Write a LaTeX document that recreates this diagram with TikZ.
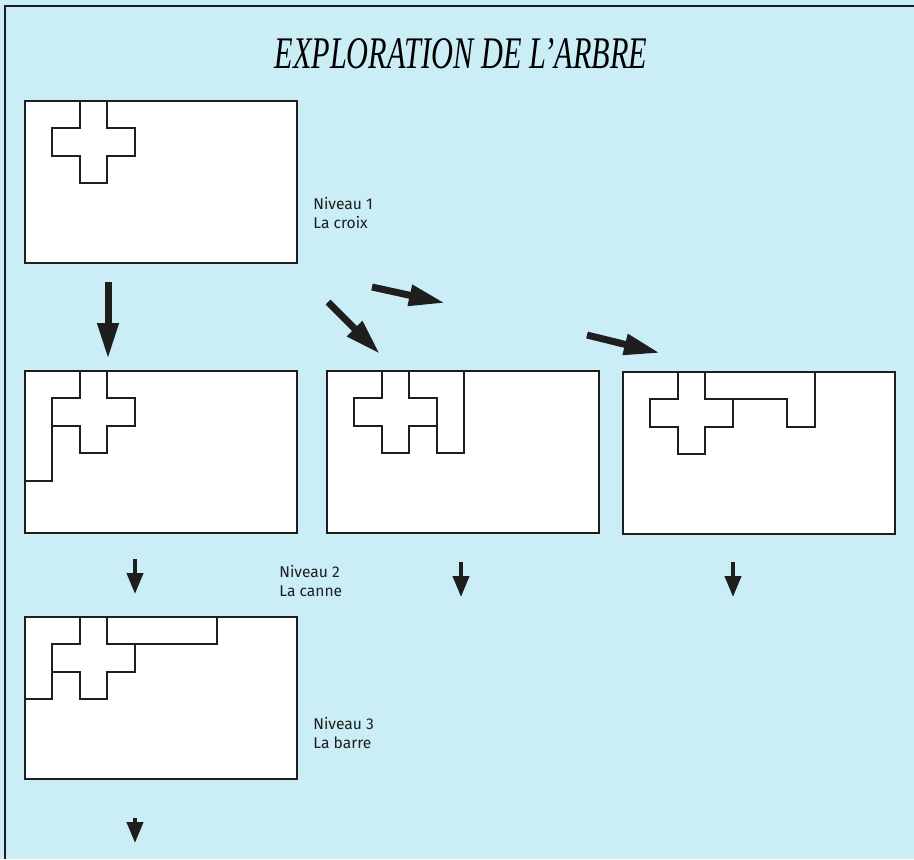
\documentclass[tikz,border=0pt]{standalone}
\usepackage{fontspec}
\usepackage{graphicx}
\setsansfont{Fira Sans}
\newfontfamily\titrefont[Ligatures=TeX]{Liberation Serif}
\usetikzlibrary{arrows.meta,positioning,calc}
\definecolor{fondbleu}{RGB}{202,237,246}
\definecolor{encre}{RGB}{30,30,30}

\tikzset{
  plateau/.style={draw=encre, fill=white, line width=1.1pt, minimum width=136pt,
                  minimum height=81pt, anchor=north west, inner sep=0pt, outer sep=0pt},
  piece/.style={draw=encre, line width=1pt, line join=miter},
  fleche/.style={draw=encre, line width=3.5pt, -{Triangle[length=18pt,width=10pt]}},
  petitefleche/.style={draw=encre, line width=2pt, -{Triangle[length=10.5pt,width=8pt]}},
  legende/.style={font=\sffamily\fontsize{7.8}{9.5}\selectfont, align=left,
                  anchor=west, inner sep=0pt, text=encre},
  croix/.pic={\draw[piece] (2,0) -- (3,0) -- (3,1) -- (4,1) -- (4,2) -- (3,2) -- (3,3)
              -- (2,3) -- (2,2) -- (1,2) -- (1,1) -- (2,1) -- cycle;}
}

\begin{document}
\begin{tikzpicture}[x=0.5pt, y=-0.5pt]
  \fill[fondbleu] (0,0) rectangle (914,859);
  \useasboundingbox (0,0) rectangle (914,859);
  \draw[encre, line width=1pt] (5,859) -- (5,6) -- (914,6);

  \node (titre) at (461,54) {\titrefont\itshape\fontsize{22.6}{26}\selectfont
    \scalebox{0.67}[1]{EXPLORATION DE L’ARBRE}};

  % plateaux
  \node[plateau] (croix)  at (25,101) {};
  \node[plateau] (canneA) at (25,371) {};
  \node[plateau] (canneB) at (327,371) {};
  \node[plateau] (canneC) at (623,372) {};
  \node[plateau] (barre)  at (25,617) {};

  % niveau 1
  \begin{scope}[shift={(croix.north west)}, x=13.7pt, y=-13.7pt]
    \pic {croix};
  \end{scope}

  % niveau 2
  \begin{scope}[shift={(canneA.north west)}, x=13.7pt, y=-13.7pt]
    \pic {croix};
    \draw[piece] (0,0) -- (2,0) -- (2,1) -- (1,1) -- (1,4) -- (0,4) -- cycle;
  \end{scope}
  \begin{scope}[shift={(canneB.north west)}, x=13.7pt, y=-13.7pt]
    \pic {croix};
    \draw[piece] (3,0) -- (5,0) -- (5,3) -- (4,3) -- (4,1) -- (3,1) -- cycle;
  \end{scope}
  \begin{scope}[shift={(canneC.north west)}, x=13.7pt, y=-13.7pt]
    \pic {croix};
    \draw[piece] (3,0) -- (7,0) -- (7,2) -- (6,2) -- (6,1) -- (3,1) -- cycle;
  \end{scope}

  % niveau 3
  \begin{scope}[shift={(barre.north west)}, x=13.7pt, y=-13.7pt]
    \pic {croix};
    \draw[piece] (0,0) -- (2,0) -- (2,1) -- (1,1) -- (1,3) -- (0,3) -- cycle;
    \draw[piece] (3,0) -- (7,0) -- (7,1) -- (3,1) -- cycle;
  \end{scope}

  % legendes
  \node[legende] (niv1) at (313,213) {Niveau 1\\La croix};
  \node[legende] (niv2) at (279,581) {Niveau 2\\La canne};
  \node[legende] (niv3) at (313,733) {Niveau 3\\La barre};

  % fleches
  \coordinate (d1) at (108,282);  \coordinate (a1) at (108,359);
  \coordinate (d2) at (328,302);  \coordinate (a2) at (380,354);
  \coordinate (d3) at (372,287);  \coordinate (a3) at (445,303);
  \coordinate (d4) at (587,335);  \coordinate (a4) at (660,353);
  \draw[fleche] (d1) -- (a1);
  \draw[fleche] (d2) -- (a2);
  \draw[fleche] (d3) -- (a3);
  \draw[fleche] (d4) -- (a4);

  \coordinate (d5) at (135,559);  \coordinate (a5) at (135,594);
  \coordinate (d6) at (461,562);  \coordinate (a6) at (461,597);
  \coordinate (d7) at (733,562);  \coordinate (a7) at (733,597);
  \coordinate (d8) at (135,818);  \coordinate (a8) at (135,843);
  \foreach \i in {5,...,8}
    \draw[petitefleche] (d\i) -- (a\i);
\end{tikzpicture}
\end{document}
